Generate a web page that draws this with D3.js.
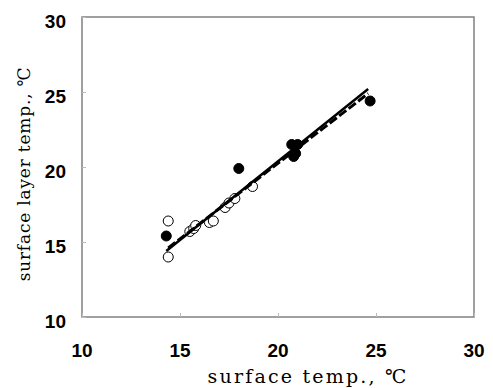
<!DOCTYPE html>
<html>
<head>
<meta charset="utf-8">
<script src="https://cdn.jsdelivr.net/npm/d3@7"></script>
<style>
  body { margin: 0; background: #fff; }
  .tick_label { font-family: "Liberation Sans", Arial, sans-serif; font-weight: bold; font-size: 19px; fill: #000; }
  .axis_title { font-family: "DejaVu Serif", "Liberation Serif", serif; fill: #000; }
</style>
</head>
<body>
<div id="chart"></div>
<script>
// data
var x_ticks = [10, 15, 20, 25, 30];
var y_ticks = [10, 15, 20, 25, 30];

var open_x = [14.4, 14.4, 15.5, 15.7, 15.8, 16.5, 16.7, 17.3, 17.5, 17.8, 18.7];
var open_y = [16.4, 14.0, 15.7, 15.9, 16.1, 16.3, 16.4, 17.3, 17.6, 17.9, 18.7];

var filled_x = [14.3, 18.0, 20.7, 21.0, 20.8, 20.9, 24.7];
var filled_y = [15.4, 19.9, 21.5, 21.5, 20.7, 20.9, 24.4];

var fit_solid_x = [14.3, 24.6];
var fit_solid_y = [14.4, 25.2];
var fit_dashed_x = [14.4, 24.6];
var fit_dashed_y = [14.6, 24.9];

var stroke_color_frame = '#808080';
var radius_point = 5;

var width = 493, height = 388;
var plot = {left: 82, right: 474, top: 17, bottom: 317};

var svg = d3.select("#chart").append("svg")
    .attr("width", width)
    .attr("height", height);

var x = d3.scaleLinear().domain([10, 30]).range([plot.left, plot.right]);
var y = d3.scaleLinear().domain([10, 30]).range([plot.bottom, plot.top]);

var container = svg.append("g").attr("class", "plot_container");

// frame
container.append("rect")
    .attr("x", plot.left).attr("y", plot.top)
    .attr("width", plot.right - plot.left).attr("height", plot.bottom - plot.top)
    .attr("fill", "none").attr("stroke", stroke_color_frame).attr("stroke-width", 1.5);

// inner ticks
var xAxis = d3.axisBottom(x).tickValues(x_ticks).tickSize(-4).tickFormat("");
var yAxis = d3.axisLeft(y).tickValues(y_ticks).tickSize(-4).tickFormat("");
container.append("g").attr("transform", "translate(0," + plot.bottom + ")").call(xAxis)
    .call(function(g) { g.select(".domain").remove(); g.selectAll("line").attr("stroke", "#bbb"); });
container.append("g").attr("transform", "translate(" + plot.left + ",0)").call(yAxis)
    .call(function(g) { g.select(".domain").remove(); g.selectAll("line").attr("stroke", "#bbb"); });

// tick labels
container.selectAll(".xlab").data(x_ticks).enter().append("text")
    .attr("class", "tick_label")
    .attr("x", function(d) { return x(d); })
    .attr("y", 357)
    .attr("text-anchor", "middle")
    .text(function(d) { return d; });

container.selectAll(".ylab").data(y_ticks).enter().append("text")
    .attr("class", "tick_label")
    .attr("x", 66)
    .attr("y", function(d) { return y(d) + 11; })
    .attr("text-anchor", "end")
    .text(function(d) { return d; });

// axis titles
container.append("text")
    .attr("class", "axis_title")
    .attr("x", 308).attr("y", 383)
    .attr("text-anchor", "middle")
    .style("font-size", "19px")
    .style("letter-spacing", "2.2px")
    .text("surface temp., ℃");

container.append("text")
    .attr("class", "axis_title")
    .attr("transform", "translate(30,174) rotate(-90)")
    .attr("text-anchor", "middle")
    .style("font-size", "17px")
    .style("letter-spacing", "0.8px")
    .text("surface layer temp., ℃");

// points
var open_pts = open_x.map(function(d, i) { return [d, open_y[i]]; });
var filled_pts = filled_x.map(function(d, i) { return [d, filled_y[i]]; });

container.selectAll(".open").data(open_pts).enter().append("circle")
    .attr("cx", function(d) { return x(d[0]); })
    .attr("cy", function(d) { return y(d[1]); })
    .attr("r", radius_point)
    .attr("fill", "#fff").attr("stroke", "#000").attr("stroke-width", 1);

container.selectAll(".filled").data(filled_pts).enter().append("circle")
    .attr("cx", function(d) { return x(d[0]); })
    .attr("cy", function(d) { return y(d[1]); })
    .attr("r", radius_point)
    .attr("fill", "#000").attr("stroke", "#000").attr("stroke-width", 1);

// fit lines
var line = d3.line().x(function(d) { return x(d[0]); }).y(function(d) { return y(d[1]); });

container.append("path")
    .datum(fit_dashed_x.map(function(d, i) { return [d, fit_dashed_y[i]]; }))
    .attr("d", line)
    .attr("fill", "none").attr("stroke", "#000").attr("stroke-width", 3)
    .attr("stroke-dasharray", "9,3");

container.append("path")
    .datum(fit_solid_x.map(function(d, i) { return [d, fit_solid_y[i]]; }))
    .attr("d", line)
    .attr("fill", "none").attr("stroke", "#000").attr("stroke-width", 2.5);
</script>
</body>
</html>
